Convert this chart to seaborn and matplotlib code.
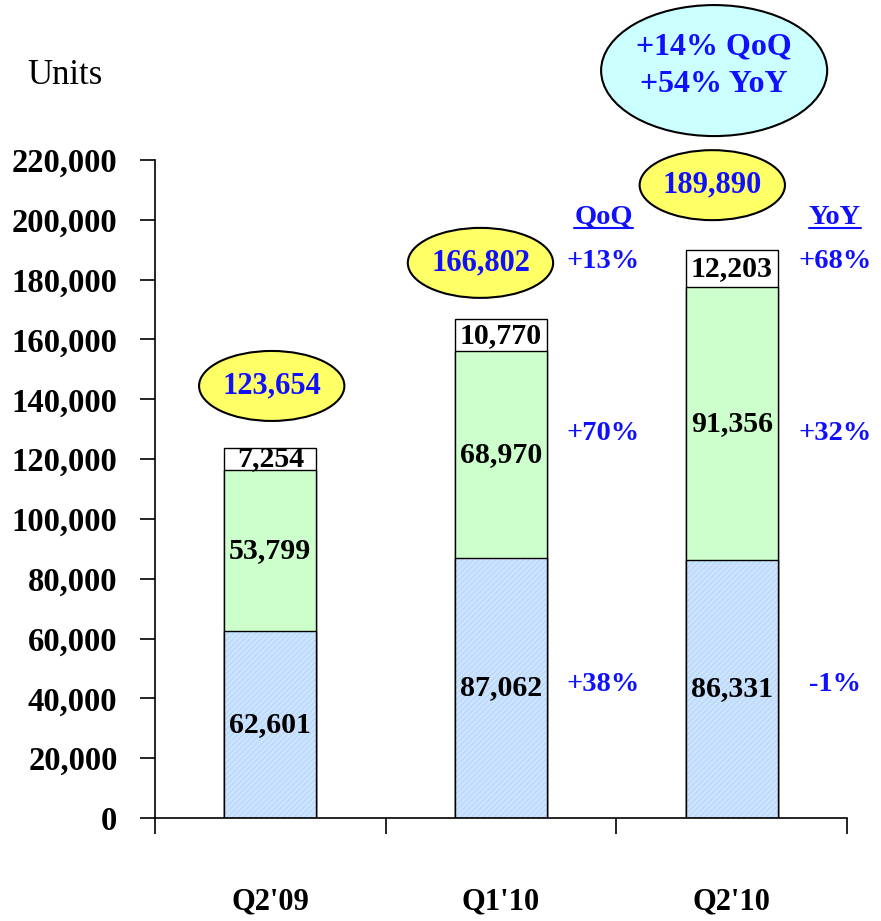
# Quarterly unit shipments, stacked by segment

import numpy as np
import pandas as pd
import seaborn as sb
from matplotlib import pyplot as plt
from matplotlib.patches import Ellipse
from matplotlib.lines import Line2D

quarters = ["Q2'09", "Q1'10", "Q2'10"]
seg_bottom = [62601, 87062, 86331]
seg_middle = [53799, 68970, 91356]
seg_top = [7254, 10770, 12203]
totals = [123654, 166802, 189890]
qoq_labels = ["+13%", "+70%", "+38%"]
yoy_labels = ["+68%", "+32%", "-1%"]
growth_rows = [186000, 128700, 44600]
headline = "+14% QoQ\n+54% YoY"
yticks = list(range(0, 220001, 20000))

BLUE_TXT = "#1010ff"
FONT = "Liberation Serif"

sb.set_style("white")
plt.rcParams['font.family'] = [FONT, 'DejaVu Serif']
plt.rcParams['text.color'] = "black"
plt.rcParams['xtick.color'] = "black"
plt.rcParams['ytick.color'] = "black"

df = pd.DataFrame({"quarter": quarters, "bottom": seg_bottom,
                   "middle": seg_middle, "top": seg_top})
df["mid_cum"] = df["bottom"] + df["middle"]
df["top_cum"] = df["mid_cum"] + df["top"]

fig = plt.figure(figsize=(8.81, 9.21), dpi=100)
ax = fig.add_axes([155 / 881, 103 / 921, 692 / 881, 658 / 921])

common = dict(x="quarter", order=quarters, width=0.4, saturation=1, ax=ax)
sb.barplot(data=df, y="top_cum", color="white", edgecolor="black", linewidth=1, **common)
sb.barplot(data=df, y="mid_cum", color="#ccffcc", edgecolor="black", linewidth=1, **common)
sb.barplot(data=df, y="bottom", color="#cce4ff", edgecolor="#bcd8f7", linewidth=0,
           hatch="//////", **common)
sb.barplot(data=df, y="bottom", fill=False, color="black", linewidth=1, **common)

# segment labels
for i, row in df.iterrows():
    for lo, hi, val in [(0, row.bottom, row.bottom),
                        (row.bottom, row.mid_cum, row.middle),
                        (row.mid_cum, row.top_cum, row.top)]:
        ax.text(i, (lo + hi) / 2, f"{val:,}", ha="center", va="center",
                fontsize=21.5, fontweight="bold", color="black", zorder=5)

# total ellipses
ell_dx = [0.006, -0.089, -0.084]
ell_dy = [20800, 18800, 21700]
for i, tot in enumerate(totals):
    cx, cy = i + ell_dx[i], tot + ell_dy[i]
    ax.add_patch(Ellipse((cx, cy), 0.63, 23400, facecolor="#ffff66",
                         edgecolor="black", linewidth=1.5, zorder=4, clip_on=False))
    ax.text(cx, cy, f"{tot:,}", ha="center", va="center", fontsize=22,
            fontweight="bold", color=BLUE_TXT, zorder=6)

# headline bubble
ax.add_patch(Ellipse((1.924, 249900), 0.98, 43800, facecolor="#ccffff",
                     edgecolor="black", linewidth=1.5, zorder=4, clip_on=False))
ax.text(1.924, 251500, headline, ha="center", va="center", fontsize=23,
        fontweight="bold", color=BLUE_TXT, zorder=6, linespacing=1.4)

# growth columns
hdrs = []
for xpos, head, labels in [(1.444, "QoQ", qoq_labels), (2.448, "YoY", yoy_labels)]:
    hdrs.append(ax.text(xpos, 200900, head, ha="center", va="center", fontsize=20.5,
                        fontweight="bold", color=BLUE_TXT))
    for y, lab in zip(growth_rows, labels):
        ax.text(xpos, y, lab, ha="center", va="center", fontsize=20.5,
                fontweight="bold", color=BLUE_TXT, clip_on=False)

ax.set_ylim(0, 220000)
ax.set_xlim(-0.5, 2.5)
ax.set_yticks(yticks)
ax.set_yticklabels([f"{v:,}" for v in yticks], fontsize=23.5, fontweight="bold")
ax.set_xticks([0, 1, 2])
ax.set_xticklabels(quarters, fontsize=22, fontweight="bold")
ax.set_xticks([-0.5, 0.5, 1.5, 2.5], minor=True)
ax.tick_params(axis="x", which="major", length=0, pad=50)
ax.tick_params(axis="x", which="minor", bottom=True, length=11.5, width=1.2,
               color="black", direction="out")
ax.tick_params(axis="y", length=11, width=1.2, color="black", direction="out", pad=16,
               left=True)
ax.set_xlabel("")
ax.set_ylabel("")
sb.despine(ax=ax)
for s in ["left", "bottom"]:
    ax.spines[s].set_color("black")
    ax.spines[s].set_linewidth(1.2)

fig.text(65 / 881, 1 - 75 / 921, "Units", ha="center", va="center", fontsize=25)

# underline QoQ / YoY headers
fig.canvas.draw()
rend = fig.canvas.get_renderer()
for t in hdrs:
    bb = t.get_window_extent(renderer=rend)
    fig.add_artist(Line2D([bb.x0, bb.x1], [bb.y0 + 2, bb.y0 + 2], transform=None,
                          color=BLUE_TXT, linewidth=1.5))

fig.savefig("out.png", dpi=100)
